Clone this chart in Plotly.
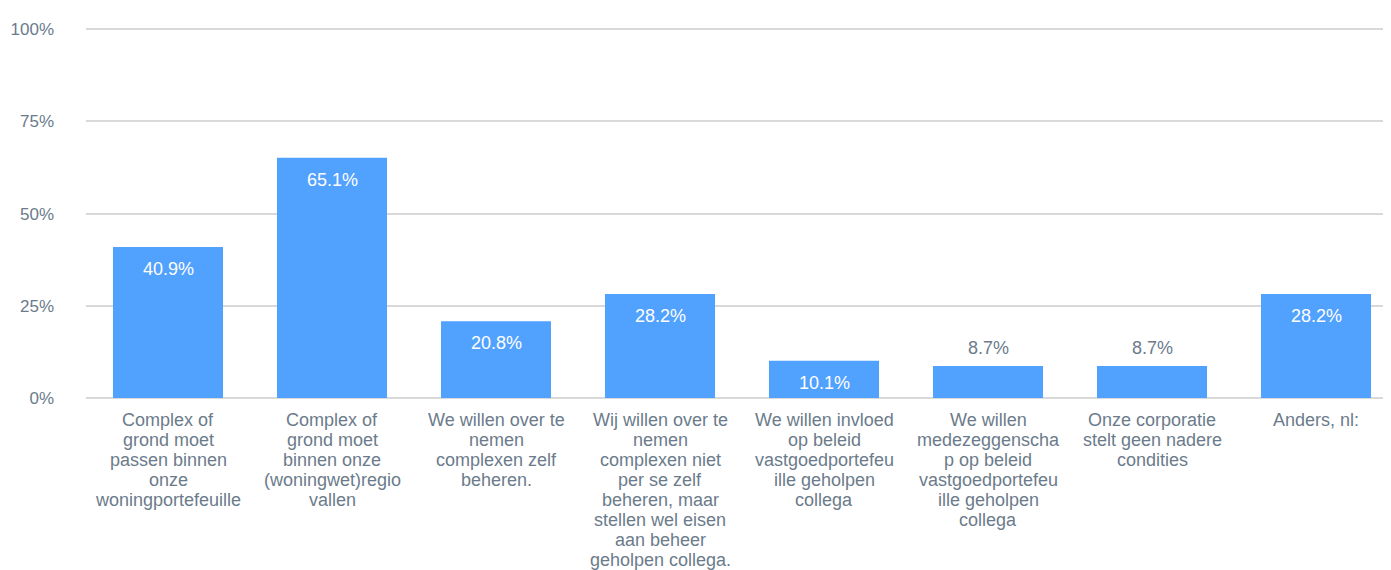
import plotly.graph_objects as go

categories = [
    ["Complex of", "grond moet", "passen binnen", "onze", "woningportefeuille"],
    ["Complex of", "grond moet", "binnen onze", "(woningwet)regio", "vallen"],
    ["We willen over te", "nemen", "complexen zelf", "beheren."],
    ["Wij willen over te", "nemen", "complexen niet", "per se zelf", "beheren, maar",
     "stellen wel eisen", "aan beheer", "geholpen collega."],
    ["We willen invloed", "op beleid", "vastgoedportefeu", "ille geholpen", "collega"],
    ["We willen", "medezeggenscha", "p op beleid", "vastgoedportefeu", "ille geholpen", "collega"],
    ["Onze corporatie", "stelt geen nadere", "condities"],
    ["Anders, nl:"],
]
values = [40.9, 65.1, 20.8, 28.2, 10.1, 8.7, 8.7, 28.2]
tick_vals = [0, 25, 50, 75, 100]
tick_text = ["0%", "25%", "50%", "75%", "100%"]

cat_keys = [" ".join(c) for c in categories]

BAR = "#51a1ff"
GRAY = "#6b7b8b"
FONT = "Liberation Sans, Arial, sans-serif"

fig = go.Figure()
fig.add_trace(go.Bar(x=cat_keys, y=values, marker=dict(color=BAR, line=dict(width=0)),
                     hoverinfo="skip"))

annotations = []
for k, v in zip(cat_keys, values):
    inside = v >= 10
    annotations.append(dict(
        x=k, y=v, xref="x", yref="y", text=f"{v:.1f}%", showarrow=False,
        yanchor="middle", yshift=-22 if inside else 18,
        font=dict(family=FONT, size=18, color="white" if inside else GRAY)))

for k, lines in zip(cat_keys, categories):
    for j, line in enumerate(lines):
        annotations.append(dict(
            x=k, y=0, xref="x", yref="paper", text=line, showarrow=False,
            yanchor="middle", yshift=-(22 + 20 * j),
            font=dict(family=FONT, size=18, color=GRAY)))

fig.update_layout(
    width=1390, height=562,
    margin=dict(l=78, r=0, t=20, b=172),
    plot_bgcolor="white", paper_bgcolor="white",
    bargap=0.329,
    showlegend=False,
    font=dict(family=FONT, color=GRAY),
    xaxis=dict(showticklabels=False, showgrid=False, zeroline=False, showline=False,
               ticks=""),
    yaxis=dict(range=[0, 100.3], tickvals=tick_vals, ticktext=tick_text,
               showgrid=True, gridcolor="#d9d9d9", gridwidth=1.5,
               zeroline=True, zerolinecolor="#d9d9d9", zerolinewidth=1.5,
               showline=False, ticks="", ticklabelstandoff=31,
               tickfont=dict(family=FONT, size=17, color=GRAY)),
    annotations=annotations,
)

fig.write_html("out.html")
